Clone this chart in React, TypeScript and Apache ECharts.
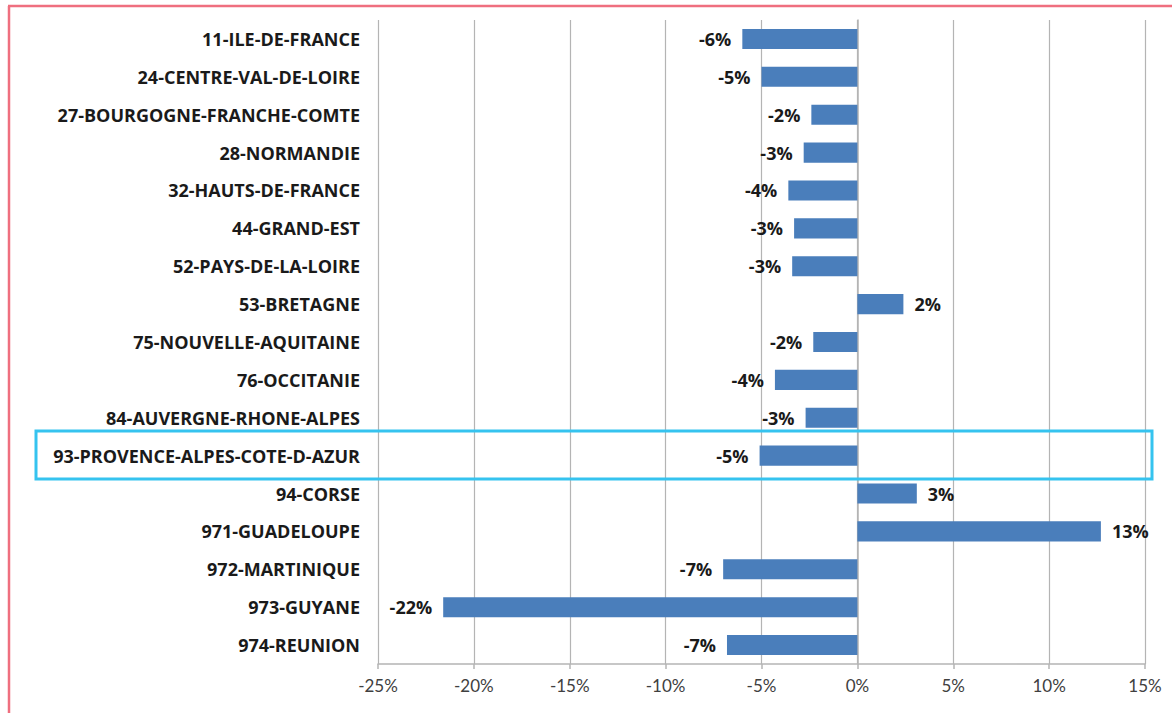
import React, { useEffect, useRef } from "react";
import * as echarts from "echarts";

const categories = [
  "11-ILE-DE-FRANCE",
  "24-CENTRE-VAL-DE-LOIRE",
  "27-BOURGOGNE-FRANCHE-COMTE",
  "28-NORMANDIE",
  "32-HAUTS-DE-FRANCE",
  "44-GRAND-EST",
  "52-PAYS-DE-LA-LOIRE",
  "53-BRETAGNE",
  "75-NOUVELLE-AQUITAINE",
  "76-OCCITANIE",
  "84-AUVERGNE-RHONE-ALPES",
  "93-PROVENCE-ALPES-COTE-D-AZUR",
  "94-CORSE",
  "971-GUADELOUPE",
  "972-MARTINIQUE",
  "973-GUYANE",
  "974-REUNION",
];

const values = [
  -6.0, -5.0, -2.4, -2.8, -3.6, -3.3, -3.4, 2.4, -2.3, -4.3, -2.7, -5.1, 3.1,
  12.7, -7.0, -21.6, -6.8,
];

const xMin = -25;
const xMax = 15;
const xStep = 5;

const BOLD_FONT = "Open Sans";
const TICK_FONT = "Lato";

export default function App() {
  const ref = useRef<HTMLDivElement>(null);

  useEffect(() => {
    document.body.style.margin = "0";
    if (!ref.current) return;
    const chart = echarts.init(ref.current, undefined, { renderer: "svg" });
    chart.setOption({
      animation: false,
      backgroundColor: "#ffffff",
      grid: { left: 378, right: 27, top: 20, bottom: 49, containLabel: false },
      xAxis: {
        type: "value",
        min: xMin,
        max: xMax,
        interval: xStep,
        axisLine: { show: true, lineStyle: { color: "#b4b4b4", width: 1.5 } },
        axisTick: { show: true, length: 5, lineStyle: { color: "#b4b4b4", width: 1.5 } },
        splitLine: { show: true, lineStyle: { color: "#b4b4b4", width: 1.2 } },
        axisLabel: {
          formatter: (v: number) => `${Math.round(v)}%`,
          color: "#404040",
          fontSize: 17,
          fontFamily: TICK_FONT,
          margin: 13,
        },
      },
      yAxis: {
        type: "category",
        data: categories,
        inverse: true,
        axisLine: { show: true, lineStyle: { color: "#b4b4b4", width: 1.5 } },
        axisTick: { show: false },
        axisLabel: {
          color: "#1a1a1a",
          fontSize: 18,
          fontWeight: "bold",
          fontFamily: BOLD_FONT,
          margin: 18,
        },
      },
      series: [
        {
          type: "bar",
          barCategoryGap: "47%",
          itemStyle: { color: "#4a7ebb" },
          data: values.map((v) => ({
            value: v,
            label: {
              show: true,
              position: v < 0 ? "left" : "right",
              distance: 11,
              formatter: `${Math.round(v)}%`,
              color: "#1a1a1a",
              fontSize: 18,
              fontWeight: "bold",
              fontFamily: BOLD_FONT,
            },
          })),
        },
      ],
      graphic: [
        {
          type: "line",
          shape: { x1: 8, y1: 6, x2: 1172, y2: 6 },
          style: { stroke: "#ef6f7f", lineWidth: 2.5 },
          z: 100,
        },
        {
          type: "line",
          shape: { x1: 9, y1: 6, x2: 9, y2: 713 },
          style: { stroke: "#ef6f7f", lineWidth: 2.5 },
          z: 100,
        },
        {
          type: "rect",
          shape: { x: 36, y: 431, width: 1116, height: 48 },
          style: { fill: "none", stroke: "#35c3ef", lineWidth: 3 },
          z: 100,
        },
      ],
    });
    return () => chart.dispose();
  }, []);

  return <div ref={ref} style={{ width: 1172, height: 713 }} />;
}
